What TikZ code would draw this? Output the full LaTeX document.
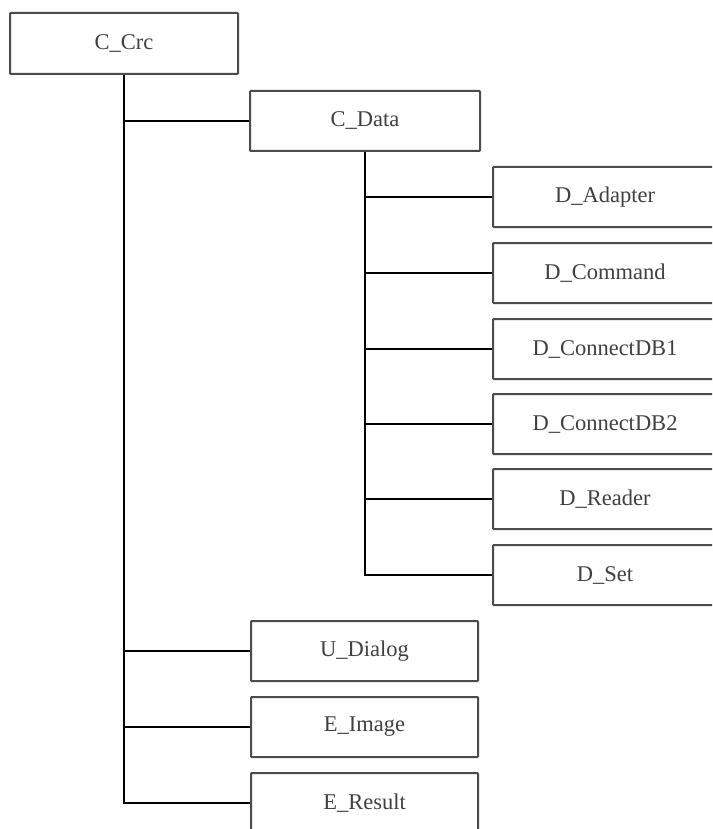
\documentclass[tikz,border=0pt]{standalone}
\usepackage{fontspec}
\setmainfont{Liberation Serif}
\usetikzlibrary{positioning}

\begin{document}
\begin{tikzpicture}[x=1pt,y=-1pt,
 every node/.style={font=\fontsize{22.5}{26}\selectfont,text=black!75},
 box/.style={draw=black!70,line width=2pt,rounded corners=0.8pt,minimum height=60pt,minimum width=228pt},
 dbox/.style={box,minimum width=224pt},
 link/.style={draw=black,line width=1.6pt}]
\path[use as bounding box,clip] (0,0) rectangle (712,829);
\fill[white] (0,0) rectangle (712,829);
\node[box,minimum height=61pt] (crc) at (124,43.5) {C\_Crc};
\node[box,minimum width=230pt] (data) at (365,121) {C\_Data};
\node[dbox] (adapter) at (605,197) {D\_Adapter};
\node[dbox] (command) at (605,273) {D\_Command};
\node[dbox] (db1) at (605,349) {D\_ConnectDB1};
\node[dbox] (db2) at (605,424) {D\_ConnectDB2};
\node[dbox] (reader) at (605,499) {D\_Reader};
\node[dbox] (set) at (605,575) {D\_Set};
\node[box,minimum width=227pt] (dialog) at (364.5,651) {U\_Dialog};
\node[box,minimum width=227pt] (image) at (364.5,727) {E\_Image};
\node[box,minimum width=227pt] (result) at (364.5,803) {E\_Result};
\draw[link] (crc.south) |- (result.west);
\foreach \n in {data,dialog,image} \draw[link] (crc.south |- \n.west) -- (\n.west);
\draw[link] (data.south) |- (set.west);
\foreach \n in {adapter,command,db1,db2,reader} \draw[link] (data.south |- \n.west) -- (\n.west);
\end{tikzpicture}
\end{document}
